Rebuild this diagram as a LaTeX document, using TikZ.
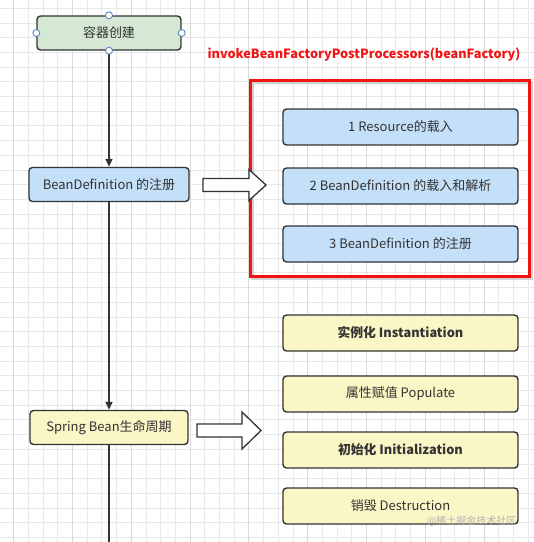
\documentclass[tikz,border=0pt]{standalone}
\usepackage{fontspec}
\setmainfont{Noto Sans CJK SC}
\usepackage{xcolor}
\usepackage{tikz}
\usetikzlibrary{arrows.meta, positioning}

\definecolor{edge}{HTML}{333333}
\definecolor{txt}{HTML}{333333}
\definecolor{greenfill}{HTML}{D5E8D4}
\definecolor{bluefill}{HTML}{C4E0F8}
\definecolor{yellowfill}{HTML}{FBF6C6}
\definecolor{hilite}{HTML}{F01414}
\definecolor{handle}{HTML}{4A7EBB}

\begin{document}
\begin{tikzpicture}[x=1pt, y=-1pt,
    >={Triangle[length=8pt, width=7pt]},
    gridln/.style={draw=black!9, line width=0.6pt},
    gridmj/.style={draw=black!15, line width=0.6pt},
    box/.style={draw=edge, line width=1.4pt, rounded corners=3.5pt, minimum height=34pt, inner sep=0pt, text=txt, font=\fontsize{13}{15}\selectfont},
    sub/.style={box, minimum width=235pt, minimum height=36pt},
    bold/.style={font=\bfseries\fontsize{12.8}{15}\selectfont},
    flow/.style={->, draw=edge, line width=1.6pt},
    bigarrow/.style={draw=edge, fill=white, line width=1.3pt, line join=miter},
    hdl/.style={circle, draw=handle, fill=white, line width=0.8pt, minimum size=7pt, inner sep=0pt},
    framebox/.style={line width=3pt, minimum width=279pt, minimum height=196pt}]
  \useasboundingbox (0,0) rectangle (534,542);
  % grid
  \begin{scope}
    \clip (0,0) rectangle (534,542);
    \foreach \i in {0,...,36} {
      \draw[gridln] ({13.5+14.7*\i},0) -- ({13.5+14.7*\i},542);
      \draw[gridln] (0,{8.1+14.7*\i}) -- (534,{8.1+14.7*\i});
    }
    \foreach \i in {0,...,9} {
      \draw[gridmj] ({13.5+58.8*\i},0) -- ({13.5+58.8*\i},542);
    }
  \end{scope}

  % main flow
  \node[box, fill=greenfill, minimum width=144pt] (create) at (109,33) {容器创建};
  \node[box, fill=bluefill, minimum width=160pt] (beandef) at (109,184.5) {BeanDefinition 的注册};
  \node[box, fill=yellowfill, minimum width=158pt] (life) at (109,427.5) {Spring Bean生命周期};
  \coordinate (bottom) at (109,542);
  \draw[flow] (create) -- (beandef);
  \draw[flow] (beandef) -- (life);
  \draw[flow, -] (life) -- (bottom);
  \foreach \a in {west, east, north, south}
    \node[hdl] (h-\a) at (create.\a) {};

  % BeanDefinition steps
  \node[font=\bfseries\fontsize{12.7}{14}\selectfont, text=hilite] (invoke) at (364,55) {invokeBeanFactoryPostProcessors(beanFactory)};
  \node[framebox, draw=black!18] (frameshade) at (392,180.5) {};
  \node[framebox, draw=hilite] (frame) at (389.5,178) {};
  \node[sub, fill=bluefill] (res) at (400.5,127) {1 Resource的载入};
  \node[sub, fill=bluefill] (load) at (400.5,186) {2 BeanDefinition 的载入和解析};
  \node[sub, fill=bluefill] (reg) at (400.5,244) {3 BeanDefinition 的注册};
  \coordinate (a1) at (203,185);
  \draw[bigarrow] (a1) -- ++(0,-6.5) -- ++(46,0) -- ++(0,-9) -- ++(17,15.5) -- ++(-17,15.5) -- ++(0,-9) -- ++(-46,0) -- cycle;

  % lifecycle steps
  \node[sub, fill=yellowfill, bold] (inst) at (400.5,333) {实例化 Instantiation};
  \node[sub, fill=yellowfill] (pop) at (400.5,394) {属性赋值 Populate};
  \node[sub, fill=yellowfill, bold] (init) at (400.5,450) {初始化 Initialization};
  \node[sub, fill=yellowfill] (dest) at (400.5,506) {销毁 Destruction};
  \coordinate (a2) at (197,430.5);
  \draw[bigarrow] (a2) -- ++(0,-6.5) -- ++(45,0) -- ++(0,-12) -- ++(19,18.5) -- ++(-19,18.5) -- ++(0,-12) -- ++(-45,0) -- cycle;

  \node[text=black!30, font=\fontsize{10}{12}\selectfont, anchor=east] (mark) at (520,521) {@稀土掘金技术社区};
\end{tikzpicture}
\end{document}
